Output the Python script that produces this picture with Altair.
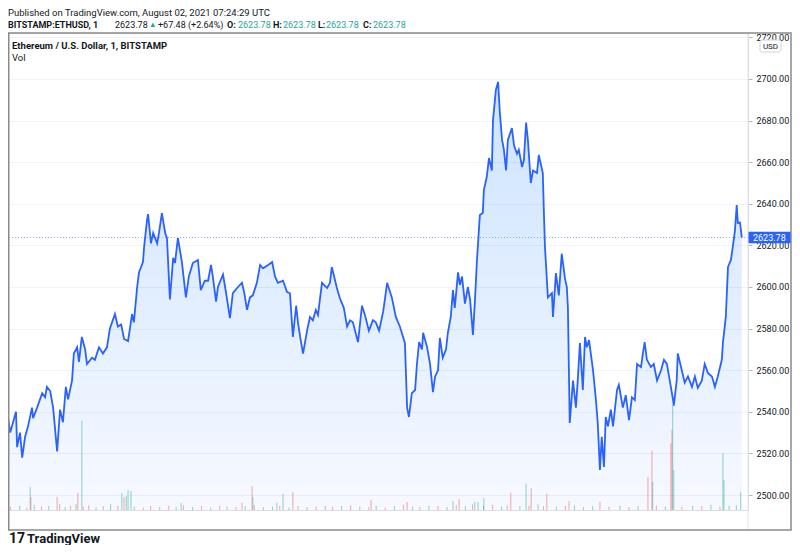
import altair as alt
import pandas as pd

# ---------------- data (minutes from 2021-08-01 00:00 UTC, price USD) ----------------
mins = [-140, -135, -126, -118, -110, -107, -99, -93, -85, -77, -66, -63, -52, -38, -30, -25, -16, -8,
        3, 11, 19, 27, 33, 44, 49, 58, 63, 71, 80, 85, 99, 107, 118, 129, 140, 148, 162, 170, 179, 187,
        198, 209, 214, 223, 228, 239, 242, 250, 253, 261, 267, 278, 283, 291, 300, 305, 313, 322, 327,
        335, 346, 357, 365, 376, 390, 398, 409, 418, 426, 431, 440, 445, 459, 467, 478, 486, 500, 511,
        517, 525, 533, 541, 552, 561, 569, 583, 594, 602, 610, 624, 635, 643, 651, 660, 665, 671, 679,
        690, 698, 706, 714, 720, 731, 745, 753, 758, 772, 780, 791, 800, 808, 816, 830, 841, 849, 860,
        871, 879, 888, 899, 904, 910, 923, 934, 945, 954, 959, 965, 970, 978, 987, 992, 998, 1006, 1009,
        1020, 1028, 1036, 1042, 1050, 1055, 1063, 1072, 1077, 1085, 1091, 1096, 1105, 1110, 1116, 1124,
        1132, 1138, 1146, 1151, 1157, 1165, 1173, 1176, 1184, 1190, 1198, 1201, 1209, 1215, 1220, 1226,
        1231, 1237, 1242, 1253, 1259, 1267, 1272, 1281, 1286, 1292, 1297, 1305, 1311, 1322, 1327, 1338,
        1341, 1344, 1352, 1363, 1366, 1374, 1382, 1390, 1399, 1404, 1407, 1412, 1421, 1429, 1434, 1440,
        1448, 1454, 1459, 1465, 1476, 1484, 1489, 1495, 1500, 1506, 1511, 1517, 1525, 1531, 1542, 1547,
        1558, 1566, 1575, 1583, 1591, 1597, 1608, 1613, 1618, 1624, 1635, 1643, 1652, 1663, 1671, 1679,
        1687, 1696, 1698, 1706, 1709, 1720, 1728, 1737, 1748, 1756, 1764, 1775, 1783, 1792, 1803, 1811,
        1819, 1830, 1833, 1841, 1847, 1855, 1860, 1866, 1871, 1874, 1880, 1885]

price = [2537.5, 2541, 2530, 2535, 2540, 2523, 2530, 2518, 2528, 2533, 2542, 2537, 2542, 2549, 2547, 2552,
         2550, 2542, 2521, 2541, 2535, 2552, 2546, 2555, 2568, 2571, 2564, 2576, 2570, 2563, 2566, 2565,
         2571, 2568, 2571, 2580, 2587, 2581, 2582, 2575, 2574, 2587, 2583, 2600, 2607, 2612, 2619, 2632,
         2635, 2621, 2626, 2621, 2626, 2635.5, 2626, 2623.5, 2594, 2614, 2611.5, 2623.5, 2612, 2595, 2605,
         2611.5, 2613, 2598.5, 2603, 2603, 2610.6, 2605, 2593, 2600, 2606, 2597.6, 2585, 2597, 2600, 2602,
         2597.6, 2589, 2595, 2596, 2602, 2610.6, 2609, 2610.6, 2612, 2605, 2602, 2603, 2597.6, 2597, 2576,
         2591, 2583, 2576, 2568, 2579, 2585.6, 2584, 2589, 2586.5, 2602, 2599.5, 2602, 2609.6, 2599.5,
         2594.7, 2590, 2581, 2584, 2583, 2573.5, 2591, 2586.5, 2579, 2584, 2583, 2579, 2588, 2594, 2602,
         2595, 2585.6, 2581, 2576, 2573, 2542, 2537.5, 2549, 2550.5, 2563, 2573.5, 2570, 2578, 2571, 2563,
         2549.5, 2557, 2560, 2575.5, 2566, 2570, 2578, 2585.6, 2598.5, 2590, 2607, 2601, 2605, 2592, 2600,
         2594, 2577, 2592, 2613, 2634.6, 2635.6, 2646.6, 2653, 2662, 2656, 2680, 2694.7, 2698.6, 2683.6,
         2670.7, 2666, 2656, 2670.7, 2676.4, 2668, 2664, 2666, 2657.7, 2661, 2679, 2670.7, 2650, 2656,
         2654.8, 2663.5, 2654.8, 2635.6, 2619, 2595, 2597, 2585.6, 2606.7, 2596, 2616, 2604, 2600, 2590,
         2534.6, 2555, 2542, 2555, 2573, 2550.5, 2576, 2571, 2574.5, 2560, 2545.7, 2534.6, 2512, 2528,
         2513.5, 2537.5, 2533, 2541, 2533, 2550.5, 2553, 2542, 2548, 2536, 2547, 2545.7, 2563, 2561.5,
         2568, 2573.5, 2565, 2561.5, 2563, 2555, 2560, 2565, 2563, 2555, 2545.7, 2543, 2555, 2568, 2560,
         2554, 2557, 2552, 2557, 2551.5, 2555, 2563, 2558.6, 2557, 2552, 2557, 2565, 2573, 2585.6, 2609.6,
         2613, 2619, 2627, 2639.4, 2630.8, 2631, 2623.78]

# volume spikes (minutes, ETH, direction)
spike_t = [-71, -69, 3, 60, 71, 181, 193, 198, 206, 187, 344, 511, 539, 541, 607, 624, 651, 866, 965,
           1091, 1108, 1151, 1160, 1176, 1250, 1292, 1306, 1349, 1410, 1495, 1627, 1638, 1640, 1690,
           1693, 1695, 1698, 1833, 1836, 1882]
spike_v = [48, 27, 27, 36, 187, 36, 29, 42, 40, 27, 15, 15, 50, 27, 15, 34, 38, 21, 17,
           19, 23, 17, 17, 25, 36, 55, 46, 34, 19, 17, 69, 124, 59, 140,
           168, 220, 84, 119, 63, 38]
spike_d = ["up", "down", "down", "down", "up", "up", "up", "up", "up", "down", "up", "down", "down", "up",
           "up", "up", "down", "down", "down", "up", "down", "up", "up", "up", "down", "up", "down",
           "down", "down", "down", "down", "down", "up", "down", "down", "up", "up", "up", "up", "up"]

# background minute volume
small_t = [-125, -100, -80, -60, -40, -20, 10, 25, 40, 55, 75, 90, 110, 130, 150, 170, 215, 240, 260,
           285, 310, 330, 350, 375, 400, 425, 450, 470, 495, 520, 545, 570, 595, 615, 640, 665, 690,
           715, 740, 760, 785, 810, 835, 860, 880, 905, 930, 955, 980, 1000, 1025, 1050, 1075, 1100,
           1125, 1145, 1175, 1200, 1225, 1240, 1275, 1300, 1325, 1340, 1375, 1400, 1425, 1450, 1475,
           1520, 1550, 1575, 1600, 1650, 1675, 1720, 1750, 1775, 1800, 1825, 1850, 1870]
small_v = [6, 9, 5, 11, 7, 8, 12, 6, 9, 13, 7, 10, 6, 8, 12, 9, 7, 5, 8, 6, 9, 7, 10, 6, 8, 5, 9, 7,
           6, 8, 10, 6, 7, 9, 5, 8, 6, 7, 9, 6, 8, 10, 7, 6, 9, 5, 8, 11, 7, 6, 9, 8, 6, 10, 8, 12, 9,
           11, 7, 10, 8, 9, 12, 8, 7, 9, 10, 6, 8, 7, 9, 6, 8, 10, 7, 6, 9, 8, 11, 7, 9, 10]
small_d = ["down", "up", "down", "up", "down", "up", "down", "up", "down", "up", "down", "down", "up",
           "down", "up", "down", "up", "down", "down", "up", "down", "up", "down", "up", "down", "up",
           "down", "up", "down", "up", "down", "down", "up", "down", "up", "down", "up", "down", "up",
           "down", "up", "down", "up", "down", "up", "down", "up", "down", "up", "down", "up", "down",
           "up", "down", "up", "down", "up", "down", "up", "down", "up", "down", "up", "down", "up",
           "down", "up", "down", "up", "down", "up", "down", "up", "down", "up", "down", "up", "down",
           "up", "down", "up", "up"]

tick_vals = [0, 180, 360, 540, 720, 900, 1080, 1260, 1440, 1620, 1800]
tick_labels = ["Aug", "03:00", "06:00", "09:00", "12:00", "15:00", "18:00", "21:00", "2", "03:01", "06:00"]
price_ticks = [2500, 2520, 2540, 2560, 2580, 2600, 2620, 2640, 2660, 2680, 2700, 2720]
last_price = 2623.78
change = "+67.48 (+2.64%)"

# ---------------- styling ----------------
FONT = "Roboto"
TXT = "#131722"
BLUE = "#2962ff"
UP = "#26a69a"
DOWN = "#ef5350"
GRID = "#f0f3fa"
W, H = 740, 477
XDOM = [-132, 1902]
YDOM = [2492.8, 2722.1]

df = pd.DataFrame({"m": mins, "p": price})
vol = pd.DataFrame({"m": spike_t + small_t, "v": spike_v + small_v, "d": spike_d + small_d})
dummy = pd.DataFrame({"k": [0]})

# vertical fade of the area fill, built as thin translucent bands stacked above price levels
band_levels = list(range(2495, 2705, 10))
band_rows = [(m, max(p, lv), lv) for lv in band_levels for m, p in zip(mins, price)]
bands = pd.DataFrame(band_rows, columns=["m", "top", "lv"])

label_expr = " : ".join(f"datum.value == {v} ? '{l}'" for v, l in zip(tick_vals, tick_labels)) + " : ''"

xscale = alt.Scale(domain=XDOM, nice=False, zero=False)
yscale = alt.Scale(domain=YDOM, nice=False, zero=False)

x_axis = alt.Axis(values=tick_vals, labelExpr=label_expr, grid=True, gridColor=GRID, domainColor="#e0e3eb",
                  ticks=False, labelPadding=5, labelFontSize=9, labelFont=FONT, labelColor=TXT,
                  labelOverlap=False, labelFlush=False, title=None)
y_axis = alt.Axis(orient="right", values=price_ticks, format=".2f", grid=True, gridColor=GRID, domain=False,
                  tickSize=4, tickColor="#b2b5be", labelPadding=4, labelFontSize=9, labelFont=FONT,
                  labelColor=TXT, labelOverlap=False, labelFlush=False, title=None)

area = alt.Chart(df).mark_area(clip=True, color=BLUE, opacity=0.04).encode(
    x=alt.X("m:Q", scale=xscale, axis=x_axis),
    y=alt.Y("p:Q", scale=yscale, axis=y_axis),
    y2=alt.value(H),
)
band = alt.Chart(bands).mark_area(clip=True, color=BLUE, opacity=0.0095).encode(
    x=alt.X("m:Q", scale=xscale, axis=None),
    y=alt.Y("top:Q", scale=yscale, axis=None),
    y2="lv:Q",
    detail="lv:N",
)

volume = alt.Chart(vol).mark_rule(strokeWidth=1, opacity=0.5, clip=True).encode(
    x=alt.X("m:Q", scale=xscale, axis=None),
    y=alt.Y("v:Q", scale=alt.Scale(domain=[0, 1000]), axis=None),
    y2=alt.value(H),
    color=alt.Color("d:N", scale=alt.Scale(domain=["up", "down"], range=[UP, DOWN]), legend=None),
)

line = alt.Chart(df).mark_line(clip=True, color=BLUE, strokeWidth=1.8).encode(
    x=alt.X("m:Q", scale=xscale, axis=None),
    y=alt.Y("p:Q", scale=yscale, axis=None),
)
dotted = alt.Chart(dummy).mark_rule(color=BLUE, strokeDash=[1, 2], strokeWidth=1, opacity=0.5).encode(
    y=alt.datum(last_price))
pbox = alt.Chart(dummy).mark_rect(color=BLUE, cornerRadius=1).encode(
    x=alt.value(740), x2=alt.value(783),
    y=alt.datum(last_price + 2.75), y2=alt.datum(last_price - 2.75))
ptxt = alt.Chart(dummy).mark_text(color="white", fontSize=9, font=FONT, align="left", baseline="middle").encode(
    x=alt.value(745), y=alt.datum(last_price), text=alt.value(f"{last_price:.2f}"))
fg = alt.layer(line, dotted, pbox, ptxt)


def txt(s, x, y, size=9.5, color=TXT, weight="normal"):
    return alt.Chart(dummy).mark_text(text=s, fontSize=size, color=color, fontWeight=weight, font=FONT,
                                      align="left", baseline="middle").encode(x=alt.value(x), y=alt.value(y))


sep = alt.Chart(dummy).mark_rule(color="#e0e3eb", strokeWidth=1).encode(
    x=alt.value(740), y=alt.value(0), y2=alt.value(497))
frame = alt.Chart(dummy).mark_rect(fillOpacity=0, stroke="#8a8a8a", strokeWidth=1.5).encode(
    x=alt.value(0.75), x2=alt.value(783), y=alt.value(0), y2=alt.value(497))
usd_box = alt.Chart(dummy).mark_rect(fill="white", stroke="#d1d4dc", strokeWidth=1, cornerRadius=2).encode(
    x=alt.value(752), x2=alt.value(773), y=alt.value(7), y2=alt.value(19))
usd = alt.Chart(dummy).mark_text(text="USD", fontSize=8, color=TXT, font=FONT, align="center",
                                 baseline="middle").encode(x=alt.value(762.5), y=alt.value(13.5))

hdr = [
    txt("Published on TradingView.com, August 02, 2021 07:24:29 UTC", 0, -20),
    txt("BITSTAMP:ETHUSD, 1", 0, -8, size=9, weight="bold"),
    txt(f"{last_price:.2f}", 107, -8, size=9),
    txt("▲", 141, -8, size=7.5, color=UP),
    txt(change, 150, -8, size=9),
    txt("O:", 219, -8, size=9, weight="bold"), txt(f"{last_price:.2f}", 230, -8, size=9, color=UP),
    txt("H:", 265, -8, size=9, weight="bold"), txt(f"{last_price:.2f}", 275, -8, size=9, color=UP),
    txt("L:", 310, -8, size=9, weight="bold"), txt(f"{last_price:.2f}", 318, -8, size=9, color=UP),
    txt("C:", 355, -8, size=9, weight="bold"), txt(f"{last_price:.2f}", 365, -8, size=9, color=UP),
    txt("Ethereum / U.S. Dollar, 1, BITSTAMP", 4, 12.7, weight="bold"),
    txt("Vol", 4, 25.3),
    txt("17", 1, 506, size=14, color="#131722", weight="bold"),
    txt("TradingView", 19, 506, size=13, color="#131722", weight="bold"),
]

chart = alt.layer(area, band, volume, fg, sep, frame, usd_box, usd, *hdr).resolve_scale(y="independent").properties(
    width=W, height=H,
    padding={"left": 0, "top": 25, "right": 44, "bottom": 35},
    autosize=alt.AutoSizeParams(type="none"),
).configure_view(strokeWidth=0).configure(background="white")

chart.save("out.html", embed_options={"renderer": "svg", "actions": False})
